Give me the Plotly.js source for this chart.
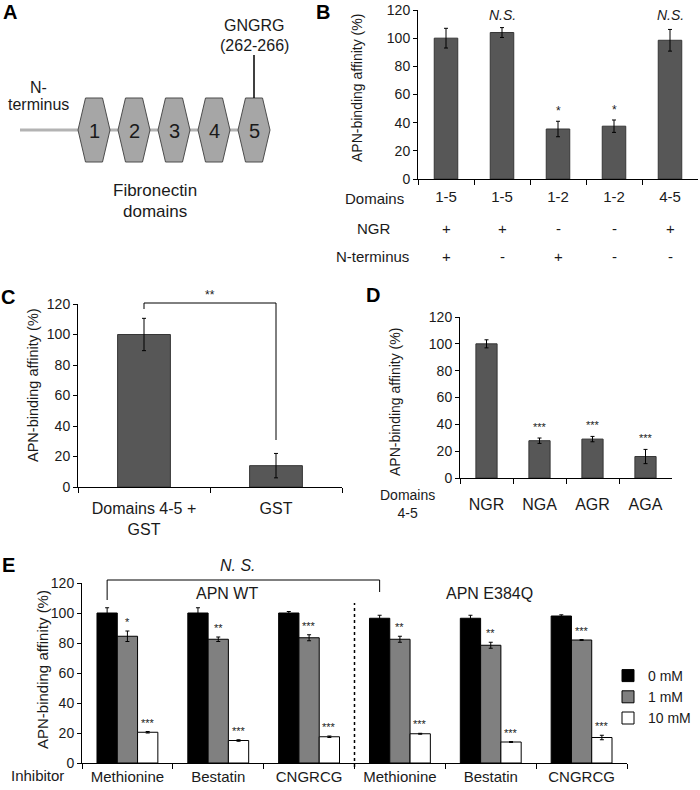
<!DOCTYPE html>
<html><head><meta charset="utf-8">
<script src="https://cdn.plot.ly/plotly-3.0.1.min.js"></script>
<style>html,body{margin:0;padding:0;background:#fff}#chart{width:700px;height:790px}</style>
</head><body><div id="chart"></div>
<script>
// ---------- Panel A: domain diagram ----------
const fnDomains = [1, 2, 3, 4, 5];
const motifLabel = 'GNGRG';
const motifRange = '(262-266)';

// ---------- Panel B ----------
const bIds = ['b1', 'b2', 'b3', 'b4', 'b5'];
const bDomains = ['1-5', '1-5', '1-2', '1-2', '4-5'];
const bNGR = ['+', '+', '-', '-', '+'];
const bNterm = ['+', '-', '+', '-', '-'];
const bValues = [100, 104, 35.5, 37.5, 98.5];
const bErrors = [7, 3.5, 5.5, 4.4, 7.7];
const bMarks = ['', 'N.S.', '*', '*', 'N.S.'];

// ---------- Panel C ----------
const cCats = ['Domains 4-5 +<br>GST', 'GST'];
const cValues = [100, 14];
const cErrors = [10.6, 8];

// ---------- Panel D ----------
const dCats = ['NGR', 'NGA', 'AGR', 'AGA'];
const dValues = [100, 27.8, 29, 16];
const dErrors = [3, 2, 2, 5.3];
const dMarks = ['', '***', '***', '***'];

// ---------- Panel E ----------
const eIds = ['e1', 'e2', 'e3', 'e4', 'e5', 'e6'];
const eInhibitors = ['Methionine', 'Bestatin', 'CNGRCG', 'Methionine', 'Bestatin', 'CNGRCG'];
const eDoses = ['0 mM', '1 mM', '10 mM'];
const e0 = [100, 100, 100, 96.5, 96.5, 98];
const e0err = [3.5, 3.5, 1, 2, 2, 0.8];
const e1 = [84.5, 82.5, 83.5, 82.5, 78.5, 82];
const e1err = [3.5, 1.5, 2, 2, 2, 0.3];
const e10 = [20.5, 15, 17.5, 19.5, 14, 17];
const e10err = [0.5, 0.5, 0.5, 0.3, 0.3, 1.5];
const e1Marks = ['*', '**', '***', '**', '**', '***'];
const e10Marks = ['***', '***', '***', '***', '***', '***'];

// ---------- helpers ----------
const W = 700, H = 790;
const px = x => x / W;
const py = y => 1 - y / H;
const FONT = '"Liberation Sans", Arial, sans-serif';
const TXT = '#1a1a1a';
const f = (size, extra) => Object.assign({family: FONT, size: size, color: TXT}, extra || {});
const ann = o => Object.assign({showarrow: false, xanchor: 'center', yanchor: 'middle', font: f(15)}, o);

const yBase = (top, bottom, anchor) => ({
  domain: [py(bottom), py(top)], range: [0, 120], tickmode: 'linear', tick0: 0, dtick: 20,
  anchor: anchor, showline: true, linecolor: '#000', linewidth: 1, ticks: 'outside', ticklen: 4,
  tickcolor: '#000', showgrid: false, zeroline: false, tickfont: f(14), fixedrange: true
});
const xBase = (left, right, anchor, extra) => Object.assign({
  domain: [px(left), px(right)], type: 'category', anchor: anchor, showline: true, linecolor: '#000',
  linewidth: 1, ticks: 'outside', tickson: 'boundaries', ticklen: 5, tickcolor: '#000',
  showgrid: false, zeroline: false, tickfont: f(15), fixedrange: true
}, extra || {});

const darkBar = {color: '#575757', line: {color: '#363636', width: 1}};
const errStyle = arr => ({type: 'data', array: arr, color: '#000', thickness: 1, width: 2});

const traces = [];
// B
traces.push({type: 'bar', x: bIds, y: bValues, xaxis: 'x2', yaxis: 'y2', width: 0.42,
  marker: darkBar, error_y: errStyle(bErrors), showlegend: false, hoverinfo: 'skip'});
// C
traces.push({type: 'bar', x: cCats, y: cValues, xaxis: 'x3', yaxis: 'y3', width: 0.4,
  marker: darkBar, error_y: errStyle(cErrors), showlegend: false, hoverinfo: 'skip'});
// D
traces.push({type: 'bar', x: dCats, y: dValues, xaxis: 'x4', yaxis: 'y4', width: 0.4,
  marker: darkBar, error_y: errStyle(dErrors), showlegend: false, hoverinfo: 'skip'});
// E
const eFill = ['#000000', '#808080', '#ffffff'];
[[e0, e0err], [e1, e1err], [e10, e10err]].forEach((s, k) => {
  traces.push({type: 'bar', name: eDoses[k], x: eIds, y: s[0], xaxis: 'x5', yaxis: 'y5',
    marker: {color: eFill[k], line: {color: '#000', width: 1}},
    error_y: errStyle(s[1]), hoverinfo: 'skip'});
});

const annotations = [];
const shapes = [];

// Panel letters
[['A', 10, 12], ['B', 323, 12], ['C', 8, 297], ['D', 373, 295], ['E', 8, 565]].forEach(l => {
  annotations.push(ann({text: '<b>' + l[0] + '</b>', xref: 'paper', yref: 'paper', x: px(l[1]), y: py(l[2]),
    font: f(20, {color: '#000'})}));
});

// ---------- Panel A drawing (hidden axes x/y, y in pixel-like units) ----------
shapes.push({type: 'line', xref: 'x', yref: 'y', x0: -0.85, x1: fnDomains[fnDomains.length - 1] - 0.1, y0: 130, y1: 130,
  line: {color: '#b3b3b3', width: 3}, layer: 'above'});
fnDomains.forEach(d => {
  const a = 0.2125, b = 0.4;
  shapes.push({type: 'path', xref: 'x', yref: 'y',
    path: `M ${d - a},98 L ${d + a},98 L ${d + b},130 L ${d + a},162 L ${d - a},162 L ${d - b},130 Z`,
    fillcolor: '#a6a6a6', line: {color: '#4d4d4d', width: 1}, layer: 'above'});
  annotations.push(ann({text: String(d), xref: 'x', yref: 'y', x: d, y: 131, font: f(20)}));
});
const last = fnDomains[fnDomains.length - 1];
shapes.push({type: 'line', xref: 'x', yref: 'y', x0: last, x1: last, y0: 55, y1: 98, line: {color: '#000', width: 1.5}});
annotations.push(ann({text: motifLabel, xref: 'x', yref: 'y', x: last, y: 25, font: f(16)}));
annotations.push(ann({text: motifRange, xref: 'x', yref: 'y', x: last, y: 45, font: f(16)}));
annotations.push(ann({text: 'N-', xref: 'x', yref: 'y', x: -0.4, y: 87, font: f(16)}));
annotations.push(ann({text: 'terminus', xref: 'x', yref: 'y', x: -0.4, y: 104, font: f(16)}));
annotations.push(ann({text: 'Fibronectin', xref: 'x', yref: 'y', x: 2.52, y: 190, font: f(17)}));
annotations.push(ann({text: 'domains', xref: 'x', yref: 'y', x: 2.52, y: 211, font: f(17)}));

// ---------- Panel B annotations ----------
annotations.push(ann({text: 'APN-binding affinity (%)', xref: 'paper', yref: 'paper', x: px(357), y: py(88), textangle: -90, font: f(14)}));
bIds.forEach((id, i) => {
  if (bMarks[i] === '*') {
    annotations.push(ann({text: '*', xref: 'x2', yref: 'y2', x: i, y: bValues[i] + bErrors[i], yanchor: 'bottom', yshift: 1, font: f(12)}));
  } else if (bMarks[i]) {
    annotations.push(ann({text: '<i>' + bMarks[i] + '</i>', xref: 'x2', yref: 'paper', x: i, y: py(15), font: f(14)}));
  }
  annotations.push(ann({text: bNGR[i], xref: 'x2', yref: 'paper', x: i, y: py(228), font: f(15)}));
  annotations.push(ann({text: bNterm[i], xref: 'x2', yref: 'paper', x: i, y: py(257), font: f(15)}));
});
annotations.push(ann({text: 'Domains', xref: 'paper', yref: 'paper', x: px(374), y: py(198), font: f(15)}));
annotations.push(ann({text: 'NGR', xref: 'paper', yref: 'paper', x: px(374), y: py(228), font: f(15)}));
annotations.push(ann({text: 'N-terminus', xref: 'paper', yref: 'paper', x: px(372), y: py(257), font: f(15)}));

// ---------- Panel C ----------
annotations.push(ann({text: 'APN-binding affinity (%)', xref: 'paper', yref: 'paper', x: px(33), y: py(385), textangle: -90, font: f(14.5)}));
shapes.push({type: 'line', xref: 'x3', yref: 'paper', x0: 0, x1: 1, y0: py(303), y1: py(303), line: {color: '#000', width: 1}});
shapes.push({type: 'line', xref: 'x3', yref: 'paper', x0: 0, x1: 0, y0: py(303), y1: py(309), line: {color: '#000', width: 1}});
shapes.push({type: 'line', xref: 'x3', yref: 'paper', x0: 1, x1: 1, y0: py(303), y1: py(440), line: {color: '#000', width: 1}});
annotations.push(ann({text: '**', xref: 'x3', yref: 'paper', x: 0.5, y: py(295), font: f(12)}));

// ---------- Panel D ----------
annotations.push(ann({text: 'APN-binding affinity (%)', xref: 'paper', yref: 'paper', x: px(395), y: py(402), textangle: -90, font: f(14)}));
dCats.forEach((c, i) => {
  if (dMarks[i]) annotations.push(ann({text: dMarks[i], xref: 'x4', yref: 'y4', x: i, y: dValues[i] + dErrors[i], yanchor: 'bottom', yshift: 3, font: f(11)}));
});
annotations.push(ann({text: 'Domains<br>4-5', xref: 'paper', yref: 'paper', x: px(407), y: py(504), font: f(14)}));

// ---------- Panel E ----------
const eBargap = 0.33;
const eBarW = (1 - eBargap) / 3;               // bar width in category units
const eBarPx = (627 - 82) / eIds.length * eBarW; // bar width in px
annotations.push(ann({text: 'APN-binding affinity (%)', xref: 'paper', yref: 'paper', x: px(42), y: py(670), textangle: -90, font: f(15)}));
eIds.forEach((id, i) => {
  annotations.push(ann({text: e1Marks[i], xref: 'x5', yref: 'y5', x: i, y: e1[i] + e1err[i], yanchor: 'bottom', yshift: 1, font: f(11)}));
  annotations.push(ann({text: e10Marks[i], xref: 'x5', yref: 'y5', x: i, xshift: eBarPx, y: e10[i] + e10err[i], yanchor: 'bottom', yshift: 1, font: f(11)}));
});
shapes.push({type: 'line', xref: 'x5', yref: 'paper', x0: 0 - eBarW, x1: 3 - eBarW, y0: py(580), y1: py(580), line: {color: '#000', width: 1}});
shapes.push({type: 'line', xref: 'x5', yref: 'paper', x0: 0 - eBarW, x1: 0 - eBarW, y0: py(580), y1: py(600), line: {color: '#000', width: 1}});
shapes.push({type: 'line', xref: 'x5', yref: 'paper', x0: 3 - eBarW, x1: 3 - eBarW, y0: py(580), y1: py(592), line: {color: '#000', width: 1}});
shapes.push({type: 'line', xref: 'x5', yref: 'paper', x0: 2.5, x1: 2.5, y0: py(767), y1: py(603), line: {color: '#000', width: 1.5, dash: 'dot'}});
annotations.push(ann({text: '<i>N. S.</i>', xref: 'paper', yref: 'paper', x: px(238), y: py(565), font: f(16)}));
annotations.push(ann({text: 'APN WT', xref: 'paper', yref: 'paper', x: px(227), y: py(593), font: f(16)}));
annotations.push(ann({text: 'APN E384Q', xref: 'paper', yref: 'paper', x: px(490), y: py(593), font: f(16)}));
annotations.push(ann({text: 'Inhibitor', xref: 'paper', yref: 'paper', x: px(37), y: py(775), font: f(15)}));

const layout = {
  width: W, height: H, margin: {l: 0, r: 0, t: 0, b: 0}, paper_bgcolor: '#fff', plot_bgcolor: 'rgba(0,0,0,0)',
  font: f(14), barmode: 'group', bargap: eBargap, bargroupgap: 0,
  showlegend: true,
  legend: {x: px(608), y: py(660), xanchor: 'left', yanchor: 'top', font: f(14), bgcolor: 'rgba(0,0,0,0)',
    tracegroupgap: 0, itemwidth: 30, traceorder: 'normal'},
  // Panel A hidden axes
  xaxis: {domain: [px(14), px(294)], range: [-1, 6], visible: false, fixedrange: true},
  yaxis: {domain: [py(230), 1], range: [230, 0], visible: false, fixedrange: true},
  // Panel B
  xaxis2: xBase(418, 698, 'y2', {tickmode: 'array', tickvals: bIds, ticktext: bDomains, ticklabelstandoff: 4}),
  yaxis2: yBase(10, 179, 'x2'),
  // Panel C
  xaxis3: xBase(78, 342, 'y3', {tickfont: f(16), ticklabelstandoff: 7}),
  yaxis3: yBase(304, 487, 'x3'),
  // Panel D
  xaxis4: xBase(460, 672, 'y4', {tickfont: f(16), ticklabelstandoff: 12}),
  yaxis4: yBase(317, 478, 'x4'),
  // Panel E
  xaxis5: xBase(82, 627, 'y5', {tickmode: 'array', tickvals: eIds, ticktext: eInhibitors}),
  yaxis5: yBase(583, 763, 'x5'),
  annotations: annotations,
  shapes: shapes
};

Plotly.newPlot('chart', traces, layout, {staticPlot: true, displayModeBar: false});
</script>
</body></html>
